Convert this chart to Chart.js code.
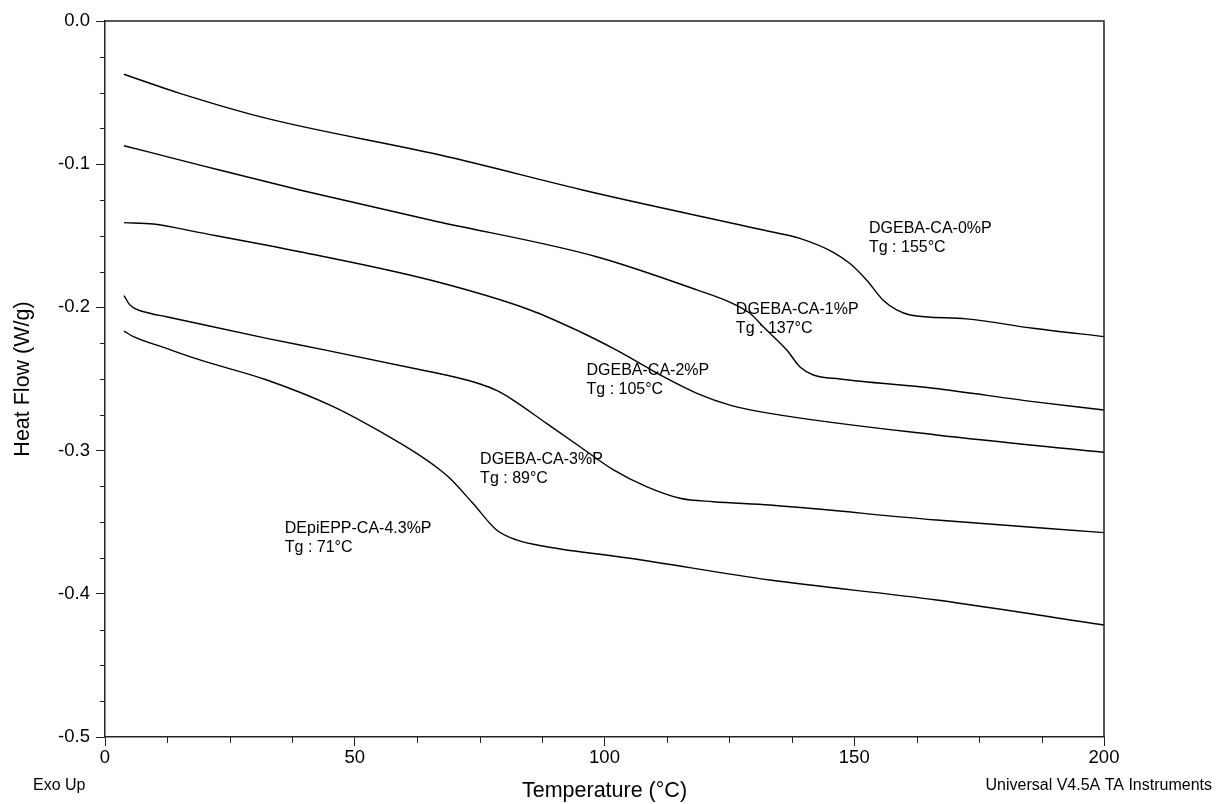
<!DOCTYPE html>
<html>
<head>
<meta charset="utf-8">
<title>DSC Heat Flow</title>
<script src="https://cdn.jsdelivr.net/npm/chart.js@4.4.1/dist/chart.umd.min.js"></script>
<style>
  html, body { margin: 0; padding: 0; background: #fff; }
</style>
</head>
<body>
<canvas id="chart" width="1223" height="804"></canvas>
<script>
'use strict';

// ************************** DATA ****************************************** //
let temp0 = [3.8, 15, 32.4, 67.1, 98.4, 133.1, 139.1, 145.8, 149.2, 152.5, 155.8, 158.5, 161.2, 172.5, 185.8, 200];
let flow0 = [-0.0372, -0.0505, -0.068, -0.0936, -0.1203, -0.147, -0.1518, -0.1615, -0.1695, -0.181, -0.195, -0.2018, -0.2053, -0.208, -0.2146, -0.2204];

let temp1 = [3.8, 19, 39, 65.1, 98.4, 118.5, 125.5, 129.1, 132.1, 136.5, 139.1, 141.8, 147.1, 165.8, 185.8, 200];
let flow1 = [-0.0871, -0.1006, -0.118, -0.139, -0.1646, -0.1878, -0.197, -0.2041, -0.2146, -0.2298, -0.2414, -0.2472, -0.25, -0.2565, -0.2658, -0.2716];

let temp2 = [3.8, 9.7, 19, 39, 65.1, 85.1, 95.1, 102.4, 105.1, 111.8, 118.5, 125.1, 133.1, 166.5, 200];
let flow2 = [-0.1408, -0.1418, -0.1478, -0.1611, -0.1809, -0.2018, -0.217, -0.2298, -0.235, -0.2484, -0.26, -0.2682, -0.274, -0.2891, -0.3012];

let temp3 = [3.8, 5.0, 9.0, 12.3, 32.4, 44.4, 65.1, 70, 75.1, 78.4, 81.7, 88.4, 95.1, 101.8, 108.4, 115.1, 121.8, 133.1, 166.5, 200];
let flow3 = [-0.1918, -0.1983, -0.2041, -0.2065, -0.2216, -0.23, -0.2449, -0.2486, -0.2535, -0.258, -0.2647, -0.281, -0.2973, -0.3135, -0.3252, -0.3333, -0.3357, -0.338, -0.3485, -0.3573];

let temp4 = [3.8, 5.7, 12.3, 19, 32.4, 45.7, 55.7, 62.4, 67.1, 69.1, 73.7, 78.4, 82.4, 88.4, 105.1, 133.1, 166.5, 200];
let flow4 = [-0.2165, -0.2204, -0.2286, -0.2367, -0.2507, -0.2693, -0.2879, -0.3019, -0.3135, -0.3195, -0.337, -0.3554, -0.3624, -0.3671, -0.3752, -0.3904, -0.4043, -0.4218];

let sampleNames = ['DGEBA-CA-0%P', 'DGEBA-CA-1%P', 'DGEBA-CA-2%P', 'DGEBA-CA-3%P', 'DEpiEPP-CA-4.3%P'];
let tgValues = [155, 137, 105, 89, 71];

// label anchors in data units (left edge, first line middle)
let labelT = [152.95, 126.3, 96.4, 75.1, 36.0];
let labelHF = [-0.1449, -0.2015, -0.2441, -0.3066, -0.3544];

// ************************** HELPERS *************************************** //
const FONT = '"Liberation Sans", Arial, sans-serif';

function toPoints(temps, flows) {
  return temps.map((t, i) => ({ x: t, y: flows[i] }));
}

function makeSeries(name, temps, flows) {
  return {
    label: name,
    data: toPoints(temps, flows),
    borderColor: '#000',
    borderWidth: 1.4,
    pointRadius: 0,
    fill: false,
    cubicInterpolationMode: 'monotone'
  };
}

// ************************** PLUGIN ***************************************** //
const extrasPlugin = {
  id: 'extras',
  afterDraw(chart) {
    const ctx = chart.ctx;
    const area = chart.chartArea;
    const xs = chart.scales.x;
    const ys = chart.scales.y;

    ctx.save();
    // frame top + right
    ctx.strokeStyle = '#222';
    ctx.lineWidth = 1.5;
    ctx.beginPath();
    ctx.moveTo(area.left, area.top);
    ctx.lineTo(area.right, area.top);
    ctx.lineTo(area.right, area.bottom);
    ctx.stroke();

    // minor ticks
    ctx.lineWidth = 1;
    ctx.beginPath();
    for (let i = 1; i < 20; i++) {
      if (i % 4 === 0) continue;
      let y = Math.round(ys.getPixelForValue(-i * 0.025)) + 0.5;
      ctx.moveTo(area.left - 5, y);
      ctx.lineTo(area.left, y);
    }
    for (let i = 1; i < 16; i++) {
      if (i % 4 === 0) continue;
      let x = Math.round(xs.getPixelForValue(i * 12.5)) + 0.5;
      ctx.moveTo(x, area.bottom);
      ctx.lineTo(x, area.bottom + 6);
    }
    ctx.stroke();

    // sample labels
    ctx.fillStyle = '#000';
    ctx.font = '16px ' + FONT;
    ctx.textAlign = 'left';
    ctx.textBaseline = 'middle';
    for (let i = 0; i < sampleNames.length; i++) {
      let x = xs.getPixelForValue(labelT[i]);
      let y = ys.getPixelForValue(labelHF[i]);
      ctx.fillText(sampleNames[i], x, y);
      ctx.fillText('Tg : ' + tgValues[i] + '°C', x, y + 19);
    }

    // footer notes
    ctx.fillText('Exo Up', 33, 786);
    ctx.textAlign = 'right';
    ctx.fillText('Universal V4.5A TA Instruments', 1212, 786);
    ctx.restore();
  }
};

// ************************** CHART ***************************************** //
let chart = document.getElementById('chart');

new Chart(chart, {
  type: 'line',
  data: {
    datasets: [
      makeSeries(sampleNames[0], temp0, flow0),
      makeSeries(sampleNames[1], temp1, flow1),
      makeSeries(sampleNames[2], temp2, flow2),
      makeSeries(sampleNames[3], temp3, flow3),
      makeSeries(sampleNames[4], temp4, flow4)
    ]
  },
  options: {
    responsive: false,
    animation: false,
    layout: {
      padding: { top: 21, right: 119, left: 0, bottom: 0 }
    },
    plugins: {
      legend: { display: false },
      tooltip: { enabled: false }
    },
    scales: {
      x: {
        type: 'linear',
        min: 0,
        max: 200,
        afterFit: (scale) => { scale.height = 67; },
        ticks: {
          stepSize: 50,
          color: '#000',
          padding: 1,
          maxRotation: 0,
          font: { family: FONT, size: 18.5 }
        },
        grid: {
          drawOnChartArea: false,
          tickLength: 9,
          tickColor: '#222'
        },
        border: { color: '#222', width: 1.5 },
        title: {
          display: true,
          text: 'Temperature (°C)',
          color: '#000',
          font: { family: FONT, size: 21.5 },
          padding: { top: 0, bottom: 0 }
        }
      },
      y: {
        min: -0.5,
        max: 0,
        afterFit: (scale) => { scale.width = 105; },
        ticks: {
          stepSize: 0.1,
          color: '#000',
          padding: 6,
          font: { family: FONT, size: 18.5 },
          callback: (value) => Number(value).toFixed(1)
        },
        grid: {
          drawOnChartArea: false,
          tickLength: 9,
          tickColor: '#222'
        },
        border: { color: '#222', width: 1.5 },
        title: {
          display: true,
          text: 'Heat Flow (W/g)',
          color: '#000',
          font: { family: FONT, size: 21.5 },
          padding: { top: 10, bottom: 0 }
        }
      }
    }
  },
  plugins: [extrasPlugin]
});
</script>
</body>
</html>
